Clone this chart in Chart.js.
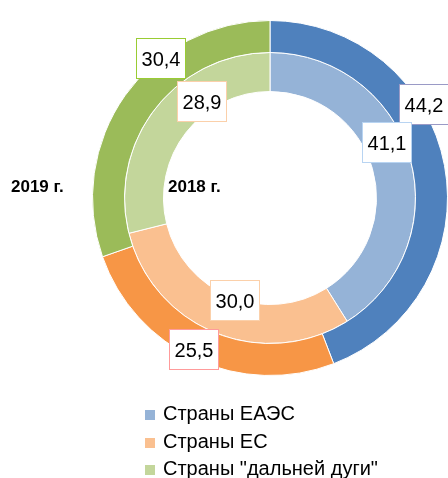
<!DOCTYPE html>
<html>
<head>
<meta charset="utf-8">
<script src="https://cdn.jsdelivr.net/npm/chart.js@4/dist/chart.umd.min.js"></script>
<style>
  body { margin: 0; background: #fff; font-family: "Liberation Sans", Arial, sans-serif; }
  #wrap { position: relative; width: 448px; height: 478px; overflow: hidden; }
  #chart { position: absolute; left: 0; top: 0; }
  .year { position: absolute; font-weight: bold; font-size: 17px; color: #000; }
  #legend { position: absolute; left: 145px; top: 400px; font-size: 20px; color: #000; }
  .item { height: 27.5px; line-height: 27.5px; white-space: nowrap; }
  .item span { display: inline-block; width: 10px; height: 10px; margin-right: 8px; vertical-align: 0px; }
</style>
</head>
<body>
<div id="wrap">
  <canvas id="chart" width="448" height="478"></canvas>
  <div class="year" id="y2019" style="left:11px; top:177px;"></div>
  <div class="year" id="y2018" style="left:168px; top:177px;"></div>
  <div id="legend"></div>
</div>
<script>
const categories = ['Страны ЕАЭС', 'Страны ЕС', 'Страны "дальней дуги"'];
const seriesNames = ['2019 г.', '2018 г.'];
const values2019 = [44.2, 25.5, 30.4];
const values2018 = [41.1, 30.0, 28.9];

const outerColors = ['#4F81BD', '#F79646', '#9BBB59'];
const innerColors = ['#95B3D7', '#FAC090', '#C3D69B'];
const outerBoxBorders = ['#9A9AC6', '#FF9B9B', '#99CC33'];
const innerBoxBorders = ['#B8D4F2', '#FBD0AA', '#FBD0AA'];

// where each value box sits: share of the arc's angle, and share of its outer radius
const labelFrac = [[0.37, 0.52, 0.65], [0.44, 0.47, 0.66]];
const labelRadius = [[1.015, 0.955, 0.995], [0.89, 0.745, 0.81]];

document.getElementById('y2019').innerText = seriesNames[0];
document.getElementById('y2018').innerText = seriesNames[1];

const legend = document.getElementById('legend');
categories.forEach((c, i) => {
  legend.innerHTML += `<div class="item"><span style="background:${innerColors[i]}"></span>${c.replace(/"/g, '&quot;')}</div>`;
});

const boxLabels = {
  id: 'boxLabels',
  afterDatasetsDraw(chart) {
    const ctx = chart.ctx;
    ctx.save();
    ctx.font = '20px "Liberation Sans", Arial, sans-serif';
    ctx.textAlign = 'center';
    ctx.textBaseline = 'middle';
    chart.data.datasets.forEach((ds, di) => {
      const borders = di === 0 ? outerBoxBorders : innerBoxBorders;
      chart.getDatasetMeta(di).data.forEach((arc, i) => {
        const p = arc.getProps(['x', 'y', 'startAngle', 'endAngle', 'outerRadius'], true);
        const a = p.startAngle + labelFrac[di][i] * (p.endAngle - p.startAngle);
        const r = p.outerRadius * labelRadius[di][i];
        const cx = Math.round(p.x + Math.cos(a) * r);
        const cy = Math.round(p.y + Math.sin(a) * r);
        const txt = ds.data[i].toFixed(1).replace('.', ',');
        const w = Math.round(ctx.measureText(txt).width + 11);
        const h = 41;
        const x0 = cx - Math.round(w / 2), y0 = cy - Math.round(h / 2);
        ctx.fillStyle = '#fff';
        ctx.fillRect(x0, y0, w, h);
        ctx.strokeStyle = borders[i];
        ctx.lineWidth = 1;
        ctx.strokeRect(x0 + 0.5, y0 + 0.5, w - 1, h - 1);
        ctx.fillStyle = '#000';
        ctx.fillText(txt, cx, cy + 1);
      });
    });
    ctx.restore();
  }
};

new Chart(document.getElementById('chart'), {
  type: 'doughnut',
  data: {
    labels: categories,
    datasets: [
      { label: seriesNames[0], data: values2019, backgroundColor: outerColors, borderColor: '#fff', borderWidth: 1, weight: 32 },
      { label: seriesNames[1], data: values2018, backgroundColor: innerColors, borderColor: '#fff', borderWidth: 1, weight: 39 }
    ]
  },
  options: {
    responsive: false,
    animation: false,
    cutout: '60%',
    hoverOffset: 0,
    layout: { padding: { left: 92, right: 0, top: 20, bottom: 102 } },
    plugins: { legend: { display: false }, tooltip: { enabled: false } }
  },
  plugins: [boxLabels]
});
</script>
</body>
</html>
